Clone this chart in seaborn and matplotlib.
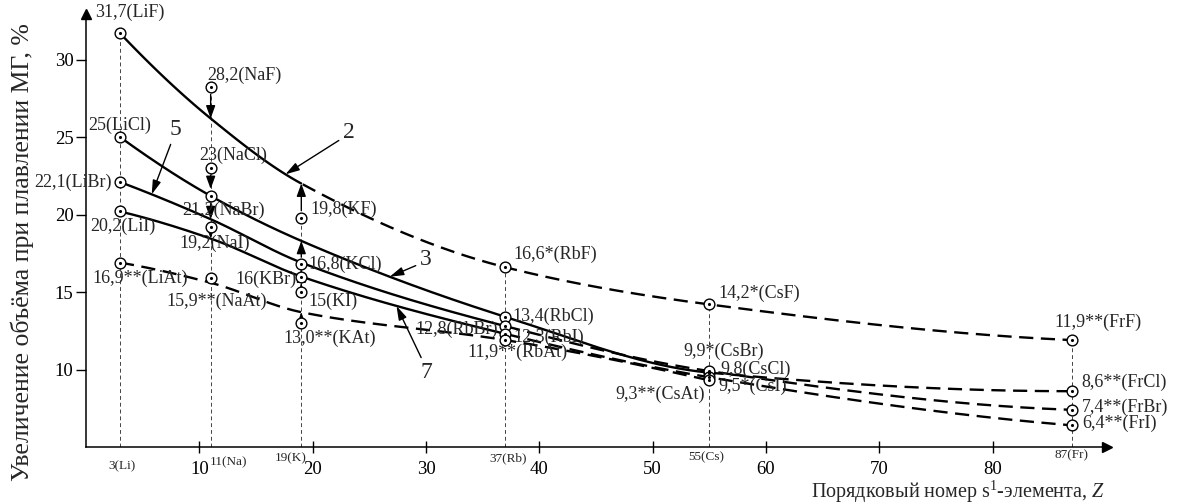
import numpy as np
import pandas as pd
import matplotlib
matplotlib.use("Agg")
import matplotlib.pyplot as plt
import matplotlib.transforms as mtransforms
import seaborn as sns

# s1 elements and their atomic numbers
elements = ["Li", "Na", "K", "Rb", "Cs", "Fr"]
z_numbers = [3, 11, 19, 37, 55, 87]
halogens = ["F", "Cl", "Br", "I", "At"]

# Volume increase on melting, % (as printed; * and ** mark estimated values)
values_F = ["31,7", "28,2", "19,8", "16,6*", "14,2*", "11,9**"]
values_Cl = ["25", "23", "16,8", "13,4", "9,8", "8,6**"]
values_Br = ["22,1", "21,2", "16", "12,8", "9,9*", "7,4**"]
values_I = ["20,2", "19,2", "15", "12,3", "9,5*", "6,4**"]
values_At = ["16,9**", "15,9**", "13,0**", "11,9**", "9,3**", None]

# Smoothed trend curves: value of each curve at the Z of every element
curve_F = [31.7, 26.2, 22.0, 16.6, 14.2, 11.9]
curve_Cl = [25.0, 21.2, 18.3, 13.4, 9.8, 8.6]
curve_Br = [22.1, 19.7, 16.9, 12.8, 9.9, 7.4]
curve_I = [20.2, 18.45, 16.0, 12.3, 9.5, 6.4]
curve_At = [16.9, 15.6, 13.7, 11.9, 9.3]

# Element after which each curve turns into a dashed (predicted) line
solid_until = {"F": "K", "Cl": "Cs", "Br": "Rb", "I": "Rb", "At": "Li"}
curve_numbers = {"F": "2", "Cl": "3", "Br": "5", "I": "7"}

values = {"F": values_F, "Cl": values_Cl, "Br": values_Br, "I": values_I, "At": values_At}
curves = {"F": curve_F, "Cl": curve_Cl, "Br": curve_Br, "I": curve_I, "At": curve_At}

# Compounds whose point is linked to its curve by a short vertical arrow
arrow_links = [("Na", "F"), ("Na", "Cl"), ("Na", "Br"), ("Na", "I"),
               ("K", "F"), ("K", "Cl"), ("K", "Br"), ("K", "I"), ("K", "At")]

# Label placement: pixel offset from the point and horizontal alignment
label_layout = {
    "LiF": (-25, 21, "left"), "LiCl": (-32, 12, "left"), "LiBr": (-8, 0, "right"),
    "LiI": (-30, -15, "left"), "LiAt": (-28, -16, "left"),
    "NaF": (-3, 12, "left"), "NaCl": (-11, 13, "left"), "NaBr": (-28, -14, "left"),
    "NaI": (-31, -16, "left"), "NaAt": (-44, -23, "left"),
    "KF": (9, 8, "left"), "KCl": (7, 0, "left"), "KBr": (-5, -3, "right"),
    "KI": (7, -9, "left"), "KAt": (-18, -15, "left"),
    "RbF": (8, 13, "left"), "RbCl": (7, 0, "left"), "RbBr": (-7, -3, "right"),
    "RbI": (8, -3, "left"), "RbAt": (-38, -12, "left"),
    "CsF": (9, 11, "left"), "CsCl": (11, 3, "left"), "CsBr": (-26, 20, "left"),
    "CsI": (9, -9, "left"), "CsAt": (-4, -14, "right"),
    "FrF": (-17, 18, "left"), "FrCl": (10, 9, "left"), "FrBr": (10, 2, "left"),
    "FrI": (10, 2, "left"),
}
# Curve number labels: text position, Z where the arrow meets the curve, arrow start on text
number_layout = {"F": ((22.7, 25.3), 17.6, (0.0, 0.25)),
                 "Br": ((7.4, 25.5), 5.8, (0.25, 0.05)),
                 "Cl": ((29.5, 17.1), 26.8, (0.0, 0.3)),
                 "I": ((29.5, 9.8), 27.4, (0.3, 0.95))}
# Element captions under the axis: pixel offset and alignment
element_caption = {"Li": (2, -19, "center"), "Na": (-1, -15, "left"), "K": (5, -11, "right"),
                   "Rb": (3, -11, "center"), "Cs": (-3, -10, "center"), "Fr": (0, -8, "center")}


def parse(text):
    return float(text.rstrip("*").replace(",", "."))


def pchip(x, y, xs):
    """Monotone piecewise cubic Hermite interpolation (Fritsch-Carlson)."""
    x = np.asarray(x, float)
    y = np.asarray(y, float)
    h = np.diff(x)
    d = np.diff(y) / h
    n = len(x)
    m = np.zeros(n)
    for k in range(1, n - 1):
        if d[k - 1] * d[k] > 0:
            w1 = 2 * h[k] + h[k - 1]
            w2 = h[k] + 2 * h[k - 1]
            m[k] = (w1 + w2) / (w1 / d[k - 1] + w2 / d[k])
    if n > 2:
        m[0] = ((2 * h[0] + h[1]) * d[0] - h[0] * d[1]) / (h[0] + h[1])
        if np.sign(m[0]) != np.sign(d[0]):
            m[0] = 0
        m[-1] = ((2 * h[-1] + h[-2]) * d[-1] - h[-1] * d[-2]) / (h[-1] + h[-2])
        if np.sign(m[-1]) != np.sign(d[-1]):
            m[-1] = 0
    else:
        m[:] = d[0]
    xs = np.asarray(xs, float)
    idx = np.clip(np.searchsorted(x, xs) - 1, 0, n - 2)
    t = (xs - x[idx]) / h[idx]
    h00 = 2 * t**3 - 3 * t**2 + 1
    h10 = t**3 - 2 * t**2 + t
    h01 = -2 * t**3 + 3 * t**2
    h11 = t**3 - t**2
    return h00 * y[idx] + h10 * h[idx] * m[idx] + h01 * y[idx + 1] + h11 * h[idx] * m[idx + 1]


sns.set_theme(style="white")
plt.rcParams["font.family"] = ["Liberation Serif", "DejaVu Serif"]
plt.rcParams["mathtext.fontset"] = "custom"
plt.rcParams["mathtext.rm"] = "Liberation Serif"
plt.rcParams["mathtext.it"] = "Liberation Serif:italic"

fig = plt.figure(figsize=(11.82, 5.03), dpi=100)
ax = fig.add_axes([86 / 1182, 56 / 503, 1021 / 1182, 433 / 503])
ax.set_xlim(0, 90.1)
ax.set_ylim(5, 32.94)

# Long table of the plotted points
rows = []
for hal in halogens:
    for el, z, v in zip(elements, z_numbers, values[hal]):
        if v is None:
            continue
        rows.append({"element": el, "halogen": hal, "Z": z, "value": parse(v),
                     "label": f"{v}({el}{hal})"})
points = pd.DataFrame(rows)

# Vertical guides from the axis to the highest point of every element
for el, z in zip(elements, z_numbers):
    top = points.loc[points["element"] == el, "value"].max()
    ax.plot([z, z], [5, top], color="#444444", lw=0.7, ls=(0, (4, 3)), zorder=1)

# Trend curves: solid where measured, dashed where predicted
dash = (0, (6, 3.2))
for hal in halogens:
    zc = z_numbers[:len(curves[hal])]
    xs = np.linspace(zc[0], zc[-1], 600)
    ys = pchip(zc, curves[hal], xs)
    split = z_numbers[elements.index(solid_until[hal])]
    solid = xs <= split
    dashed = xs >= split
    if solid.sum() > 1:
        sns.lineplot(x=xs[solid], y=ys[solid], color="black", lw=1.7,
                     estimator=None, sort=False, ax=ax, zorder=2)
    if dashed.sum() > 1:
        sns.lineplot(x=xs[dashed], y=ys[dashed], color="black", lw=1.7, linestyle=dash,
                     estimator=None, sort=False, ax=ax, zorder=2)

# Arrows from points to the trend curves
for el, hal in arrow_links:
    i = elements.index(el)
    z = z_numbers[i]
    start = parse(values[hal][i])
    end = curves[hal][i]
    hits_point = ((points["Z"] == z) & (np.abs(points["value"] - end) < 0.35)).any()
    ax.annotate("", xy=(z, end), xytext=(z, start),
                arrowprops=dict(arrowstyle="-|>,head_length=0.55,head_width=0.2",
                                color="black", lw=1.0, shrinkA=5,
                                shrinkB=5 if hits_point else 0, mutation_scale=14),
                zorder=3)

# Circled points
sns.scatterplot(data=points, x="Z", y="value", marker="o", s=60, facecolor="white",
                edgecolor="black", linewidth=1.0, ax=ax, zorder=5, legend=False)
sns.scatterplot(data=points, x="Z", y="value", marker="o", s=5, color="black",
                linewidth=0, ax=ax, zorder=6, legend=False)

# Point labels
for _, r in points.iterrows():
    dx, dy, ha = label_layout[r["element"] + r["halogen"]]
    ax.annotate(r["label"], xy=(r["Z"], r["value"]), xytext=(dx, dy),
                textcoords="offset pixels", ha=ha, va="center", fontsize=13,
                annotation_clip=False, zorder=7)

# Curve numbers with pointer arrows
for hal, (txt_pos, z_hit, rel) in number_layout.items():
    y_hit = float(pchip(z_numbers, curves[hal], [z_hit])[0])
    ax.annotate(curve_numbers[hal], xy=(z_hit, y_hit), xytext=txt_pos,
                ha="left", va="center", fontsize=17,
                arrowprops=dict(arrowstyle="-|>,head_length=0.6,head_width=0.18",
                                color="black", lw=1.0, relpos=rel, shrinkA=1,
                                shrinkB=0, mutation_scale=14))

# Axes styling: only left and bottom spines with arrow heads
sns.despine(ax=ax)
for side in ("left", "bottom"):
    ax.spines[side].set_color("black")
    ax.spines[side].set_linewidth(1.1)
ax.plot(1, 0, ">", color="black", ms=7, transform=ax.transAxes, clip_on=False)
ax.plot(0, 1, "^", color="black", ms=7, transform=ax.transAxes, clip_on=False)

ax.set_xticks(range(10, 90, 10))
ax.set_yticks([10, 15, 20, 25, 30])
ax.tick_params(axis="x", direction="inout", length=8, width=1, labelsize=13.5,
               pad=6, colors="black", bottom=True)
ax.tick_params(axis="y", direction="out", length=7, width=1, labelsize=13.5,
               pad=2, colors="black", left=True)
ax.set_xlabel("")
ax.set_ylabel("")
ax.grid(False)

# Element captions under the axis
blend = mtransforms.blended_transform_factory(ax.transData, ax.transAxes)
for el, z in zip(elements, z_numbers):
    dx, dy, ha = element_caption[el]
    ax.annotate(f"{z}({el})", xy=(z, 0), xycoords=blend, xytext=(dx, dy),
                textcoords="offset pixels", ha=ha, va="center", fontsize=9.5,
                annotation_clip=False)

fig.text(1105 / 1182, 1 - 492 / 503, "Порядковый номер s$^{1}$-элемента, $Z$",
         ha="right", va="center", fontsize=14.5)
fig.text(22 / 1182, 1 - 252 / 503, "Увеличение объёма при плавлении МГ, %",
         rotation=90, ha="center", va="center", fontsize=18.5)

fig.savefig("out.png", dpi=100)
